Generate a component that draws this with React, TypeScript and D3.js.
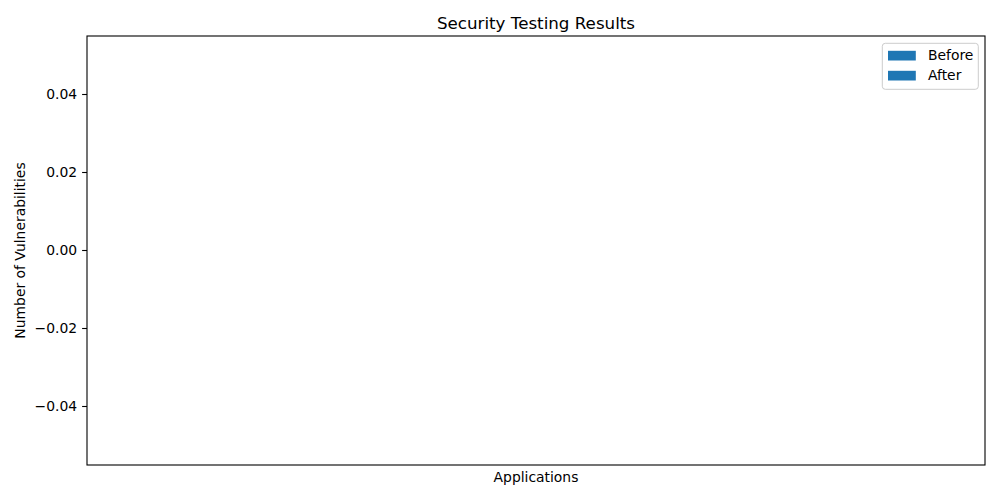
import React from "react";
import * as d3 from "d3";

const applications: string[] = [];
const beforeValues: number[] = [];
const afterValues: number[] = [];
const seriesNames = ["Before", "After"];
const yTicks = [0.04, 0.02, 0.0, -0.02, -0.04];
const yDomain: [number, number] = [-0.055, 0.055];

const W = 1000;
const H = 500;
const M = { left: 87, right: 985, top: 36, bottom: 465 };
const BLUE = "#1f77b4";
const FONT = "DejaVu Sans, sans-serif";

export default function App() {
  const y = d3.scaleLinear().domain(yDomain).range([M.bottom, M.top]);
  const x = d3
    .scaleBand<string>()
    .domain(applications)
    .range([M.left, M.right])
    .padding(0.2);
  const bw = x.bandwidth() / 2;
  const fmt = (v: number) => {
    const s = Math.abs(v).toFixed(2);
    return v < 0 ? "\u2212" + s : s;
  };
  const legendX = 882.3;
  const legendY = 43.3;
  return (
    <svg
      width={W}
      height={H}
      style={{ position: "absolute", left: 0, top: 0 }}
      fontFamily={FONT}
    >
      <rect x={0} y={0} width={W} height={H} fill="white" />
      {applications.map((a, i) => (
        <g key={a}>
          <rect
            x={x(a)!}
            y={y(Math.max(0, beforeValues[i]))}
            width={bw}
            height={Math.abs(y(beforeValues[i]) - y(0))}
            fill={BLUE}
          />
          <rect
            x={x(a)! + bw}
            y={y(Math.max(0, afterValues[i]))}
            width={bw}
            height={Math.abs(y(afterValues[i]) - y(0))}
            fill={BLUE}
          />
        </g>
      ))}
      {yTicks.map((t) => (
        <g key={t}>
          <line
            x1={M.left - 4.9}
            x2={M.left}
            y1={y(t)}
            y2={y(t)}
            stroke="black"
            strokeWidth={1.1}
          />
          <text
            x={M.left - 9.8}
            y={y(t)}
            dy="0.35em"
            textAnchor="end"
            fontSize={13.9}
            fill="black"
          >
            {fmt(t)}
          </text>
        </g>
      ))}
      <rect
        x={M.left}
        y={M.top}
        width={M.right - M.left}
        height={M.bottom - M.top}
        fill="none"
        stroke="black"
        strokeWidth={1.1}
      />
      <text
        x={(M.left + M.right) / 2}
        y={29}
        textAnchor="middle"
        fontSize={16.7}
        fill="black"
      >
        Security Testing Results
      </text>
      <text
        x={(M.left + M.right) / 2}
        y={482}
        textAnchor="middle"
        fontSize={13.9}
        fill="black"
      >
        Applications
      </text>
      <text
        transform={`translate(25, ${(M.top + M.bottom) / 2}) rotate(-90)`}
        textAnchor="middle"
        fontSize={13.9}
        fill="black"
      >
        Number of Vulnerabilities
      </text>
      <rect
        x={legendX}
        y={legendY}
        width={978.3 - legendX}
        height={89.3 - legendY}
        rx={3}
        fill="white"
        fillOpacity={0.8}
        stroke="#cccccc"
        strokeWidth={1}
      />
      {seriesNames.map((s, i) => (
        <g key={s}>
          <rect
            x={888}
            y={50.8 + i * 20}
            width={27.8}
            height={9.7}
            fill={BLUE}
          />
          <text
            x={928}
            y={55.6 + i * 20}
            dy="0.35em"
            fontSize={13.9}
            fill="black"
          >
            {s}
          </text>
        </g>
      ))}
    </svg>
  );
}
